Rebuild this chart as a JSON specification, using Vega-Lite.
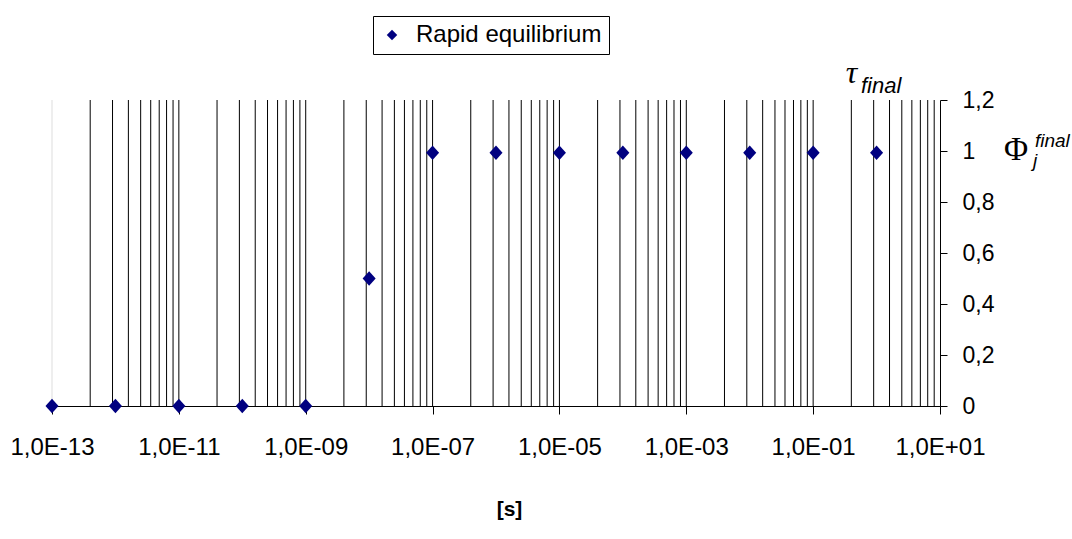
{
  "$schema": "https://vega.github.io/schema/vega-lite/v6.json",
  "width": 888,
  "height": 306,
  "autosize": {"type": "none"},
  "padding": {"left": 52, "top": 100, "right": 132, "bottom": 133},
  "background": "white",
  "config": {"view": {"stroke": null}, "font": "Liberation Sans"},
  "datasets": {
    "series": [
      {"t": 1e-13, "phi": 0, "series": "Rapid equilibrium"},
      {"t": 1e-12, "phi": 0, "series": "Rapid equilibrium"},
      {"t": 1e-11, "phi": 0, "series": "Rapid equilibrium"},
      {"t": 1e-10, "phi": 0, "series": "Rapid equilibrium"},
      {"t": 1e-9, "phi": 0, "series": "Rapid equilibrium"},
      {"t": 1e-8, "phi": 0.5, "series": "Rapid equilibrium"},
      {"t": 1e-7, "phi": 0.993, "series": "Rapid equilibrium"},
      {"t": 1e-6, "phi": 0.993, "series": "Rapid equilibrium"},
      {"t": 1e-5, "phi": 0.993, "series": "Rapid equilibrium"},
      {"t": 1e-4, "phi": 0.993, "series": "Rapid equilibrium"},
      {"t": 1e-3, "phi": 0.993, "series": "Rapid equilibrium"},
      {"t": 1e-2, "phi": 0.993, "series": "Rapid equilibrium"},
      {"t": 1e-1, "phi": 0.993, "series": "Rapid equilibrium"},
      {"t": 1, "phi": 0.993, "series": "Rapid equilibrium"}
    ],
    "gridlines": [
      {"t": 1e-13},
      {"t": 4e-13}, {"t": 9e-13}, {"t": 1.6e-12}, {"t": 2.5e-12}, {"t": 3.6e-12}, {"t": 4.9e-12}, {"t": 6.4e-12}, {"t": 8.1e-12}, {"t": 1e-11},
      {"t": 4e-11}, {"t": 9e-11}, {"t": 1.6e-10}, {"t": 2.5e-10}, {"t": 3.6e-10}, {"t": 4.9e-10}, {"t": 6.4e-10}, {"t": 8.1e-10}, {"t": 1e-9},
      {"t": 4e-9}, {"t": 9e-9}, {"t": 1.6e-8}, {"t": 2.5e-8}, {"t": 3.6e-8}, {"t": 4.9e-8}, {"t": 6.4e-8}, {"t": 8.1e-8}, {"t": 1e-7},
      {"t": 4e-7}, {"t": 9e-7}, {"t": 1.6e-6}, {"t": 2.5e-6}, {"t": 3.6e-6}, {"t": 4.9e-6}, {"t": 6.4e-6}, {"t": 8.1e-6}, {"t": 1e-5},
      {"t": 4e-5}, {"t": 9e-5}, {"t": 1.6e-4}, {"t": 2.5e-4}, {"t": 3.6e-4}, {"t": 4.9e-4}, {"t": 6.4e-4}, {"t": 8.1e-4}, {"t": 1e-3},
      {"t": 4e-3}, {"t": 9e-3}, {"t": 1.6e-2}, {"t": 2.5e-2}, {"t": 3.6e-2}, {"t": 4.9e-2}, {"t": 6.4e-2}, {"t": 8.1e-2}, {"t": 1e-1},
      {"t": 0.4}, {"t": 0.9}, {"t": 1.6}, {"t": 2.5}, {"t": 3.6}, {"t": 4.9}, {"t": 6.4}, {"t": 8.1}
    ],
    "tau": [{"t": 0.402, "phi": 1.267, "s": "τ"}],
    "tauSub": [{"t": 0.567, "phi": 1.227, "s": "final"}],
    "phiSym": [{"t": 157.7, "phi": 0.965, "s": "Φ"}],
    "phiSup": [{"t": 314, "phi": 1.016, "s": "final"}],
    "phiSub": [{"t": 292, "phi": 0.937, "s": "j"}]
  },
  "layer": [
    {
      "data": {"name": "gridlines"},
      "mark": {"type": "rule", "strokeWidth": 1},
      "encoding": {
        "x": {"field": "t", "type": "quantitative", "scale": {"type": "log", "domain": [1e-13, 10], "nice": false}},
        "color": {"condition": {"test": "datum.t < 2e-13", "value": "#dddddd"}, "value": "#000000"}
      }
    },
    {
      "data": {"name": "series"},
      "mark": {"type": "point", "filled": true, "opacity": 1, "shape": "M0,-1L0.9,0L0,1L-0.9,0Z", "size": 210, "strokeWidth": 0},
      "encoding": {
        "x": {
          "field": "t", "type": "quantitative",
          "scale": {"type": "log", "domain": [1e-13, 10], "nice": false},
          "axis": {
            "values": [1e-13, 1e-11, 1e-9, 1e-7, 1e-5, 1e-3, 1e-1, 10],
            "labelExpr": "'1,0E' + (datum.value < 1 ? '-' : '+') + format(abs(round(log(datum.value) / LN10)), '02d')",
            "grid": false,
            "domainColor": "#000000",
            "tickColor": "#000000",
            "tickSize": 8,
            "labelFontSize": 24,
            "labelColor": "#000000",
            "labelPadding": 21,
            "labelFlush": false,
            "labelOverlap": false,
            "title": "[s]",
            "titleFontWeight": "bold",
            "titleFontSize": 21,
            "titleColor": "#000000",
            "titleBaseline": "alphabetic",
            "titleX": 457,
            "titleY": 109
          }
        },
        "y": {
          "field": "phi", "type": "quantitative",
          "scale": {"domain": [0, 1.2], "nice": false},
          "axis": {
            "orient": "right",
            "values": [0, 0.2, 0.4, 0.6, 0.8, 1, 1.2],
            "labelExpr": "replace(format(datum.value, '~g'), '.', ',')",
            "grid": false,
            "domainColor": "#000000",
            "tickColor": "#000000",
            "tickSize": 7,
            "labelFontSize": 23,
            "labelColor": "#000000",
            "labelPadding": 15,
            "title": null
          }
        },
        "color": {
          "field": "series", "type": "nominal",
          "scale": {"range": ["#000080"]},
          "legend": {
            "title": null,
            "orient": "none",
            "legendX": 321,
            "legendY": -84,
            "strokeColor": "#000000",
            "fillColor": "#ffffff",
            "padding": 7,
            "labelFontSize": 24,
            "labelColor": "#000000",
            "labelLimit": 0,
            "labelOffset": 12,
            "symbolType": "M0,-1L1,0L0,1L-1,0Z",
            "symbolSize": 110,
            "symbolStrokeWidth": 0,
            "symbolOpacity": 1
          }
        }
      }
    },
    {
      "data": {"name": "tau"},
      "mark": {"type": "text", "font": "Liberation Serif", "fontStyle": "italic", "fontSize": 32, "align": "center", "baseline": "alphabetic", "color": "#000000"},
      "encoding": {
        "x": {"field": "t", "type": "quantitative", "scale": {"type": "log", "domain": [1e-13, 10], "nice": false}},
        "y": {"field": "phi", "type": "quantitative", "scale": {"domain": [0, 1.2], "nice": false}},
        "text": {"field": "s"}
      }
    },
    {
      "data": {"name": "tauSub"},
      "mark": {"type": "text", "fontStyle": "italic", "fontSize": 22, "align": "left", "baseline": "alphabetic", "color": "#000000"},
      "encoding": {
        "x": {"field": "t", "type": "quantitative", "scale": {"type": "log", "domain": [1e-13, 10], "nice": false}},
        "y": {"field": "phi", "type": "quantitative", "scale": {"domain": [0, 1.2], "nice": false}},
        "text": {"field": "s"}
      }
    },
    {
      "data": {"name": "phiSym"},
      "mark": {"type": "text", "font": "Liberation Serif", "fontSize": 33, "align": "center", "baseline": "alphabetic", "color": "#000000"},
      "encoding": {
        "x": {"field": "t", "type": "quantitative", "scale": {"type": "log", "domain": [1e-13, 10], "nice": false}},
        "y": {"field": "phi", "type": "quantitative", "scale": {"domain": [0, 1.2], "nice": false}},
        "text": {"field": "s"}
      }
    },
    {
      "data": {"name": "phiSup"},
      "mark": {"type": "text", "fontStyle": "italic", "fontSize": 19, "align": "left", "baseline": "alphabetic", "color": "#000000"},
      "encoding": {
        "x": {"field": "t", "type": "quantitative", "scale": {"type": "log", "domain": [1e-13, 10], "nice": false}},
        "y": {"field": "phi", "type": "quantitative", "scale": {"domain": [0, 1.2], "nice": false}},
        "text": {"field": "s"}
      }
    },
    {
      "data": {"name": "phiSub"},
      "mark": {"type": "text", "fontStyle": "italic", "fontSize": 19, "align": "left", "baseline": "alphabetic", "color": "#000000"},
      "encoding": {
        "x": {"field": "t", "type": "quantitative", "scale": {"type": "log", "domain": [1e-13, 10], "nice": false}},
        "y": {"field": "phi", "type": "quantitative", "scale": {"domain": [0, 1.2], "nice": false}},
        "text": {"field": "s"}
      }
    }
  ]
}
